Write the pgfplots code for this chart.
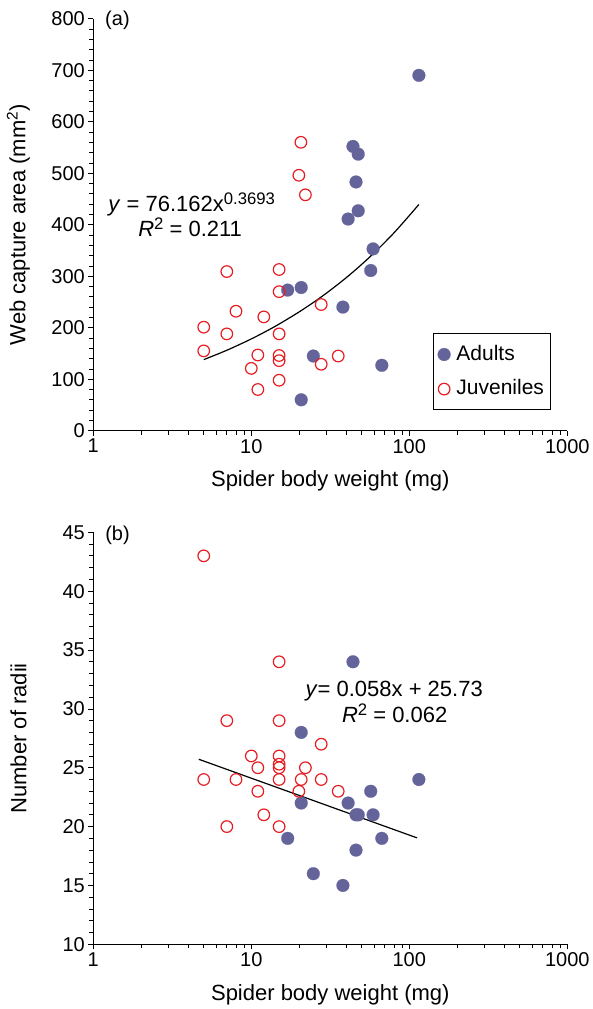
\documentclass[border=0pt]{standalone}
\usepackage{fontspec}
\setmainfont{Liberation Sans}
\usepackage{pgfplots}
\pgfplotsset{compat=1.18}
\definecolor{adult}{RGB}{100,100,155}
\definecolor{juv}{RGB}{230,30,35}

\newcommand{\upper}[2]{\raisebox{#1}{\fontsize{16.7}{18}\selectfont #2}}

\pgfplotsset{webax/.style={
    scale only axis, width=474pt, height=412pt,
    xmin=1, xmax=1000,
    xtick={1,10,100,1000}, xticklabels={1,10,100,1000},
    minor xtick={2,3,4,5,6,7,8,9,20,30,40,50,60,70,80,90,200,300,400,500,600,700,800,900},
    axis x line*=bottom, axis y line*=left,
    axis line style={line width=0.8pt},
    tick align=outside,
    major tick length=5pt, minor tick length=4pt,
    tick style={black, line width=0.7pt},
    tick label style={font=\fontsize{20}{24}\selectfont},
    /pgf/number format/assume math mode=true,
    xlabel={Spider body weight (mg)},
    xlabel style={font=\fontsize{22}{26}\selectfont, at={(rel axis cs:0.5,-0.122)}, anchor=center},
    ylabel style={font=\fontsize{22}{26}\selectfont, at={(rel axis cs:-0.158,0.5)}, anchor=center},
    clip=false,
}}
\pgfplotsset{
    adultmk/.style={only marks, color=adult, mark=*, mark size=6.4pt, mark options={fill=adult, draw=adult, line width=0.2pt}},
    juvmk/.style={only marks, color=juv, mark=o, mark size=5.8pt, mark options={draw=juv, line width=1.2pt, fill=none}},
}

\begin{document}
\begin{tikzpicture}
\useasboundingbox (-93.3pt,-578.3pt) rectangle (498.7pt,430.7pt);

% (a) web capture area
\begin{semilogxaxis}[webax, at={(0pt,0pt)}, anchor=south west,
    ymin=0, ymax=800, ytick={0,100,...,800}, minor y tick num=4,
    ylabel={Web capture area (mm\textsuperscript{2})},
    legend style={at={(rel axis cs:0.966,0.05)}, anchor=south east, draw=black, line width=0.8pt,
        font=\fontsize{21}{25}\selectfont, inner xsep=4pt, inner ysep=8.3pt, row sep=10pt,
        nodes={inner sep=2.8pt, text height=15pt, text depth=4pt}},
    legend cell align=left,
    legend image code/.code={\path[draw=none, fill=none] (0pt,0pt) -- (16pt,0pt); \draw[#1] plot coordinates {(6.5pt,0pt)};},
]
\addplot[black, line width=1.2pt, smooth, forget plot] coordinates {
    (5,138.0) (7,156.2) (10,178.2) (14,201.8) (20,230.3) (28,260.7)
    (40,297.4) (56,336.8) (80,384.2) (115,439.3)};
\addplot[adultmk] coordinates {
    (115,690) (44,552) (47.5,537) (46,483) (47.5,427) (41,411) (59,353)
    (57,311) (17,273) (20.7,278) (38,240) (24.7,145) (67,127) (20.7,60)};
\addplot[juvmk] coordinates {
    (20.6,560) (20,496) (22,458) (7,309) (15,313) (15,270) (27.7,245)
    (8,232) (12,221) (5,201) (7,188) (15,188) (5,155) (11,147) (15,146)
    (15,136) (35.5,145) (27.7,129) (10,121) (15,98) (11,80)};
\legend{Adults, Juveniles}
\node[font=\fontsize{20}{24}\selectfont] at (rel axis cs:0.051,0.995) {(a)};
\node[font=\fontsize{22}{26}\selectfont, anchor=base] at (rel axis cs:0.2076,0.5316)
    {\textit{y} = 76.162x\upper{7.5pt}{0.3693}};
\node[font=\fontsize{22}{26}\selectfont, anchor=base] at (rel axis cs:0.2043,0.4709)
    {\textit{R}\upper{6.7pt}{2} = 0.211};
\end{semilogxaxis}

% (b) number of radii
\begin{semilogxaxis}[webax, at={(0pt,-513.6pt)}, anchor=south west,
    ymin=10, ymax=45, ytick={10,15,...,45}, minor y tick num=4,
    ylabel={Number of radii},
]
\addplot[black, line width=1.2pt] coordinates {(4.65,25.72) (112,19.04)};
\addplot[adultmk] coordinates {
    (44,34) (20.7,28) (115,24) (57,23) (20.7,22) (41,22) (46,21) (47.5,21)
    (59,21) (17,19) (67,19) (46,18) (24.7,16) (38,15)};
\addplot[juvmk] coordinates {
    (5,43) (15,34) (7,29) (15,29) (27.7,27) (10,26) (15,26) (11,25) (15,25)
    (15,25.3) (22,25) (5,24) (8,24) (15,24) (20.7,24) (27.7,24) (11,23)
    (20,23) (35.5,23) (12,21) (7,20) (15,20)};
\node[font=\fontsize{20}{24}\selectfont] at (rel axis cs:0.051,0.993) {(b)};
\node[font=\fontsize{22}{26}\selectfont, anchor=base] at (rel axis cs:0.6348,0.601)
    {\textit{y}= 0.058x + 25.73};
\node[font=\fontsize{22}{26}\selectfont, anchor=base] at (rel axis cs:0.6358,0.538)
    {\textit{R}\upper{6.7pt}{2} = 0.062};
\end{semilogxaxis}
\end{tikzpicture}
\end{document}
